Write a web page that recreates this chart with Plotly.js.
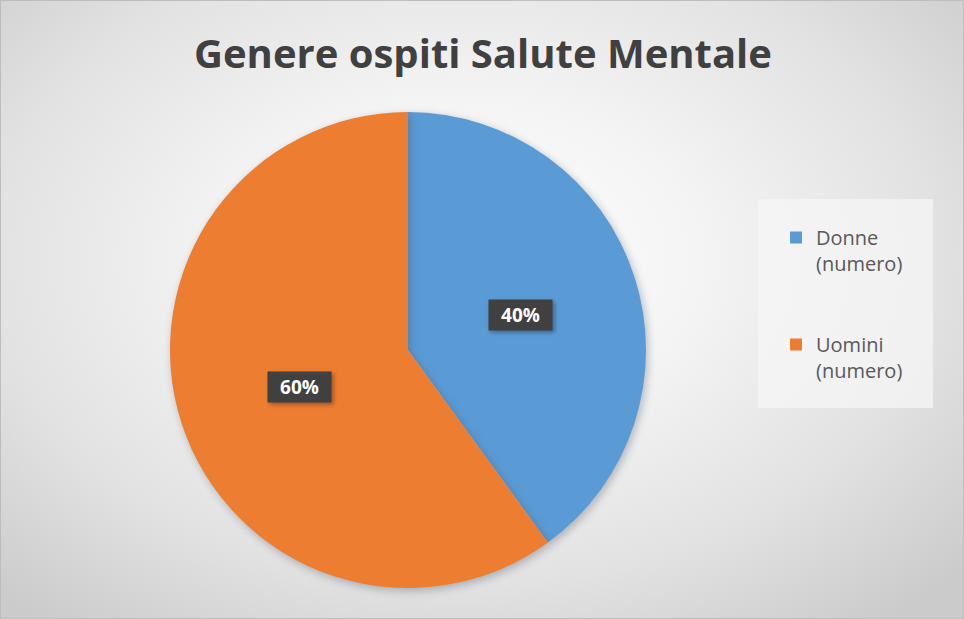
<!DOCTYPE html>
<html>
<head>
<meta charset="utf-8">
<script src="https://cdn.plot.ly/plotly-3.0.1.min.js"></script>
<style>
  html, body { margin: 0; padding: 0; }
  body { width: 964px; height: 619px; overflow: hidden; }
  #frame {
    position: absolute; left: 0; top: 0; width: 962px; height: 617px;
    border: 1px solid #bdbdbd;
    background: radial-gradient(ellipse 70% 75% at 48% 42%, #ffffff 0%, #f4f4f4 35%, #e2e2e2 70%, #cbcbcb 100%);
  }
  #chart { position: absolute; left: 0; top: 0; width: 964px; height: 619px; }
  #chart .pielayer path.surface { filter: drop-shadow(2px 3px 4px rgba(60,70,90,0.35)); }
  #chart .annotation-text-g rect.bg { filter: drop-shadow(2px 2px 2px rgba(0,0,0,0.35)); }
</style>
</head>
<body>
<div id="frame"></div>
<div id="chart"></div>
<script>
// ---- data ----
const categories = ["Donne<br>(numero)<br> <br> ", "Uomini<br>(numero)<br> <br> "];
const values = [40, 60];
const colors = ["#5B9BD5", "#ED7D31"];
const chartTitle = "Genere ospiti Salute Mentale";

// pie geometry (domain)
const W = 964, H = 619;
const cx = 408, cy = 350, R = 238;
const domX = [(cx - R) / W, (cx + R) / W];
const domY = [(H - cy - R) / H, (H - cy + R) / H];

// label annotations computed from data (slice midpoint at ~0.49 R)
const total = values.reduce((a, b) => a + b, 0);
const annotations = [];
let acc = 0;
values.forEach((v, i) => {
  const mid = (acc + v / 2) / total * 2 * Math.PI; // clockwise from top
  acc += v;
  const px = cx + 0.49 * R * Math.sin(mid);
  const py = cy - 0.49 * R * Math.cos(mid);
  annotations.push({
    x: (px + 2) / W, y: 1 - (py + 1) / H, xref: "paper", yref: "paper",
    text: "<b>" + Math.round(v / total * 100) + "%</b>",
    showarrow: false,
    font: { family: "Open Sans, sans-serif", size: 19, color: "#ffffff" },
    bgcolor: "#404040", borderpad: 4, width: 55, height: 22,
    xanchor: "center", yanchor: "middle"
  });
});

const data = [{
  type: "pie",
  labels: categories,
  values: values,
  sort: false,
  direction: "clockwise",
  rotation: 0,
  marker: { colors: colors, line: { width: 0 } },
  textinfo: "none",
  hoverinfo: "percent",
  domain: { x: domX, y: domY }
}];

const layout = {
  width: W, height: H,
  margin: { l: 0, r: 0, t: 0, b: 0 },
  paper_bgcolor: "rgba(0,0,0,0)",
  plot_bgcolor: "rgba(0,0,0,0)",
  title: {
    text: "<b>" + chartTitle + "</b>",
    font: { family: "Open Sans, sans-serif", size: 40, color: "#404040" },
    x: 0.501, xanchor: "center", y: 0.912, yanchor: "middle"
  },
  showlegend: true,
  legend: {
    x: 776 / W, xanchor: "left",
    y: 1 - 218 / H, yanchor: "top",
    bgcolor: "rgba(0,0,0,0)",
    font: { family: "Open Sans, sans-serif", size: 20, color: "#595959" },
    valign: "top",
    itemwidth: 30
  },
  shapes: [{
    type: "rect", xref: "paper", yref: "paper",
    x0: 758 / W, x1: 933 / W, y0: 1 - 408 / H, y1: 1 - 199 / H,
    fillcolor: "rgba(246,246,246,0.75)", line: { width: 0 }, layer: "below"
  }],
  annotations: annotations
};

Plotly.newPlot("chart", data, layout, { displayModeBar: false, staticPlot: true });
</script>
</body>
</html>
